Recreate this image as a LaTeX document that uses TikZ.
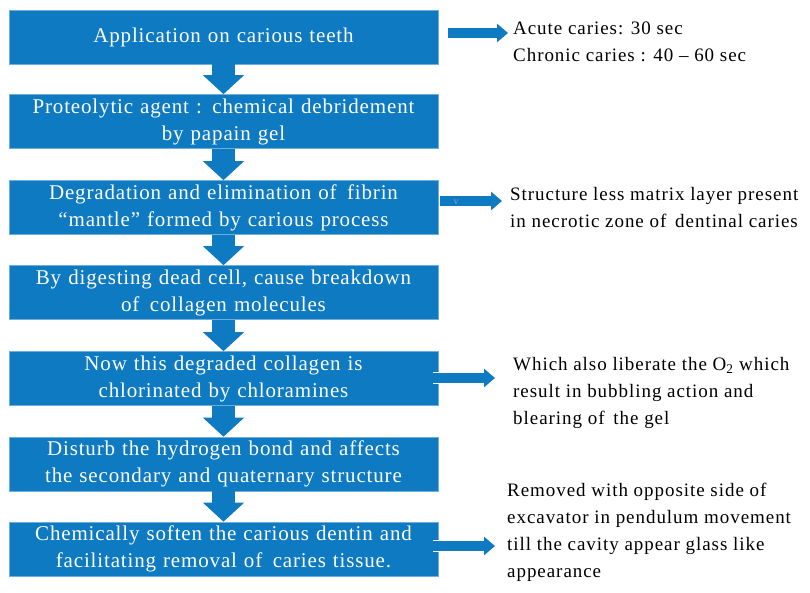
\documentclass[tikz,border=0pt]{standalone}
\usepackage{fontspec}
\setmainfont{Liberation Serif}
\usepackage{tikz}
\usetikzlibrary{arrows.meta,positioning,calc}
\definecolor{step-blue}{RGB}{14,122,194}
\definecolor{step-pale}{RGB}{140,160,195}

\tikzset{
  stepbox/.style={fill=step-blue, draw=step-blue!60!white, line width=0.6pt, text=white,
    minimum width=429pt, minimum height=54pt, text width=425pt, align=center, inner sep=0pt,
    font={\fontsize{21}{27}\selectfont\addfontfeatures{LetterSpace=4}}},
  notetext/.style={anchor=west, align=left, inner sep=0pt,
    font={\fontsize{19}{27}\selectfont\addfontfeatures{LetterSpace=5}}},
  downarrow/.style={draw=step-blue, line width=23pt, -{Triangle[width=40pt,length=19pt]}},
  sidearrow/.style={draw=step-blue, line width=10pt, -{Triangle[width=18pt,length=11pt]}},
  sideedge/.style={sidearrow, preaction={draw=white, line width=12pt, -{Triangle[width=21pt,length=12.5pt]}}}
}

\begin{document}
\begin{tikzpicture}[x=1pt, y=-1pt]
  \useasboundingbox (0,0) rectangle (810,592);

  % Steps
  \node[stepbox] (b1) at (223.5,37) {Application on carious teeth};
  \node[stepbox] (b2) at (223.5,121.5) {Proteolytic agent : chemical debridement\\by papain gel};
  \node[stepbox] (b3) at (223.5,207.5) {Degradation and elimination of\ \,fibrin\\``mantle'' formed by carious process};
  \node[stepbox] (b4) at (223.5,292.5) {By digesting dead cell, cause breakdown\\of\ \,collagen molecules};
  \node[stepbox] (b5) at (223.5,378.5) {Now this degraded collagen is\\chlorinated by chloramines};
  \node[stepbox] (b6) at (223.5,464) {Disturb the hydrogen bond and affects\\the secondary and quaternary structure};
  \node[stepbox] (b7) at (223.5,549) {Chemically soften the carious dentin and\\facilitating removal of\ \,caries tissue.};

  % Flow
  \foreach \a/\b in {b1/b2,b2/b3,b3/b4,b4/b5,b5/b6,b6/b7}
    \draw[downarrow] (\a.south) -- (\b.north);

  % Notes
  \node[notetext] (t1) at (513,42) {Acute caries: 30 sec\\Chronic caries : 40 -- 60 sec};
  \node[notetext] (t3) at (510,207.5) {Structure less matrix layer present\\in necrotic zone of\ \,dentinal caries};
  \node[notetext] (t5) at (513,393) {Which also liberate the O\textsubscript{2} which\\result in bubbling action and\\blearing of\ \,the gel};
  \node[notetext] (t7) at (507,532) {Removed with opposite side of\\excavator in pendulum movement\\till the cavity appear glass like\\appearance};

  % Side arrows
  \coordinate (a1) at (448,33);
  \coordinate (a3) at (440,201);
  \coordinate (a5) at (433,378);
  \coordinate (a7) at (433,546);
  \draw[sidearrow] (a1) -- ([xshift=-5pt]t1.west |- a1);
  \draw[sidearrow] (a3) -- ([xshift=-8pt]t3.west |- a3);
  \node[font=\fontsize{10}{10}\selectfont, text=step-pale, inner sep=0pt] (v3) at (456,202) {v};
  \draw[sideedge] (a5) -- ([xshift=-18pt]t5.west |- a5);
  \draw[sideedge] (a7) -- ([xshift=-12pt]t7.west |- a7);
\end{tikzpicture}
\end{document}
